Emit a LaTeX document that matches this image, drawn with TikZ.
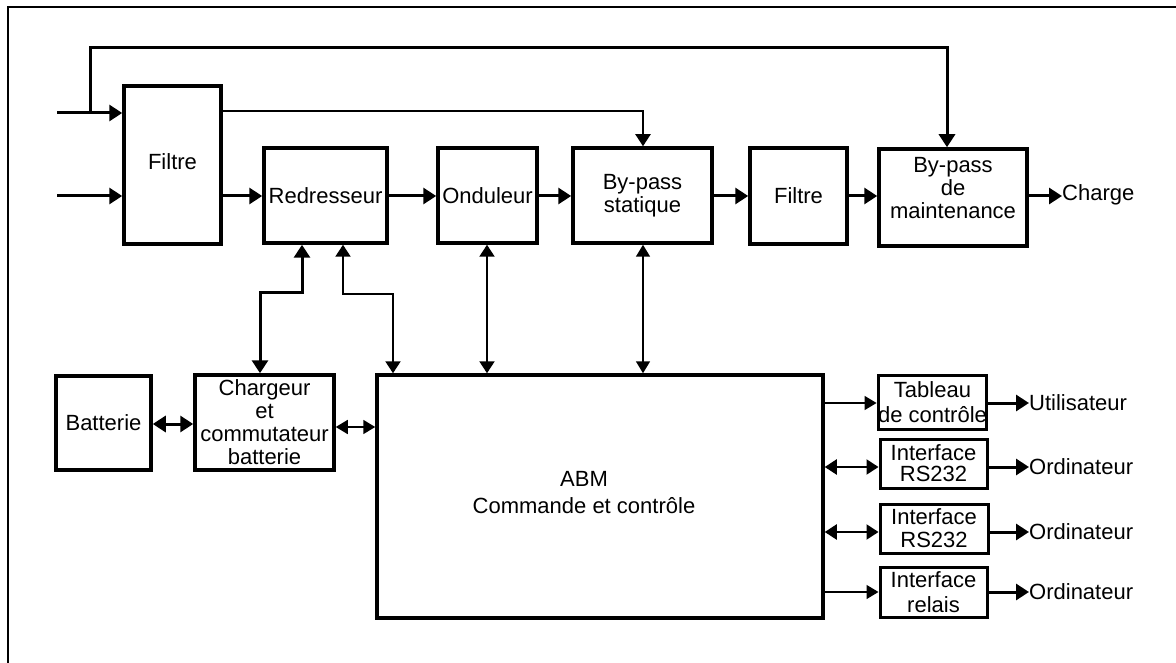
\documentclass[tikz,border=0pt]{standalone}
\usepackage{fontspec}
\setmainfont{Liberation Sans}
\usetikzlibrary{arrows.meta,calc}
\begin{document}
\begin{tikzpicture}[x=1pt,y=-1pt,
  box/.style={draw,line width=3.5pt,inner sep=0pt,align=center,font=\fontsize{22}{23}\selectfont},
  ibox/.style={box,line width=3pt},
  lbl/.style={inner sep=0pt,align=center,font=\fontsize{22}{23}\selectfont},
  olbl/.style={inner sep=0pt,anchor=west,font=\fontsize{22}{23}\selectfont},
  bigarrow/.style={line width=3pt,-{Triangle[length=13pt,width=16pt]}},
  bigdouble/.style={line width=3pt,{Triangle[length=13pt,width=16pt]}-{Triangle[length=13pt,width=16pt]}},
  smallarrow/.style={line width=1.5pt,-{Triangle[length=12pt,width=14pt]}},
  smalldouble/.style={line width=1.6pt,{Triangle[length=12pt,width=14pt]}-{Triangle[length=12pt,width=14pt]}},
  midarrow/.style={line width=2pt,-{Triangle[length=12pt,width=15pt]}},
  middouble/.style={line width=2.2pt,{Triangle[length=12pt,width=15pt]}-{Triangle[length=12pt,width=15pt]}}
]
\useasboundingbox (0,0) rectangle (1176,663);
% frame
\draw[line width=2pt] (7.5,663) -- (7.5,7.5) -- (1176,7.5);

% top row
\node[box,minimum width=97pt,minimum height=158pt] (filt1) at (172.5,165) {};
\node[lbl] (filt1t) at (172.5,162) {Filtre};
\node[box,minimum width=123pt,minimum height=95pt] (red) at (325.5,195.5) {Redresseur};
\node[box,minimum width=99pt,minimum height=95pt] (ond) at (487.5,195.5) {Onduleur};
\node[box,minimum width=139pt,minimum height=95pt] (bps) at (642.5,195.5) {By-pass\\statique};
\node[box,minimum width=97pt,minimum height=96pt] (filt2) at (798.5,196) {Filtre};
\node[box,minimum width=148pt,minimum height=97pt] (bpm) at (953,197.5) {};
\node[lbl] (bpmt) at (953,188) {By-pass\\de\\maintenance};
\node[olbl] (charge) at (1062,195) {Charge};

% bottom row
\node[box,minimum width=95pt,minimum height=94pt] (bat) at (103.5,423) {Batterie};
\node[box,minimum width=139pt,minimum height=95pt] (chg) at (264.5,422.5) {};
\node[lbl] (chgt) at (264.5,422.5) {Chargeur\\et\\commutateur\\batterie};
\node[box,minimum width=446pt,minimum height=243pt] (abm) at (600,496.5) {};
\node[lbl,font=\fontsize{22}{27}\selectfont] (abmt) at (584,492.5) {ABM\\Commande et contrôle};

% interfaces
\node[ibox,font=\fontsize{22}{25}\selectfont,minimum width=105pt,minimum height=54pt] (tab) at (932.5,402) {Tableau\\de contrôle};
\node[ibox,font=\fontsize{22}{21}\selectfont,minimum width=107pt,minimum height=49pt] (rs1) at (933.5,463.5) {Interface\\RS232};
\node[ibox,font=\fontsize{22}{23}\selectfont,minimum width=108pt,minimum height=49pt] (rs2) at (934,528.5) {Interface\\RS232};
\node[ibox,font=\fontsize{22}{25}\selectfont,minimum width=107pt,minimum height=50pt] (rel) at (933.5,592) {Interface\\relais};
\node[olbl] (util) at (1029,403) {Utilisateur};
\node[olbl] (ord1) at (1029,467) {Ordinateur};
\node[olbl] (ord2) at (1029,532) {Ordinateur};
\node[olbl] (ord3) at (1029,592) {Ordinateur};

% inputs
\coordinate (in1) at (57,113);
\coordinate (in2) at (57,196);
\coordinate (j1) at (90,113);
\coordinate (t1) at (90,48);
\coordinate (t2) at (947,48);
\coordinate (s1) at (221,111);
\coordinate (s2) at (643,111);
\draw[bigarrow] (in1) -- (filt1.west |- in1);
\draw[bigarrow] (in2) -- (filt1.west |- in2);
\draw[bigarrow] (j1) -- (t1) -- (t2) -- (t2 |- bpm.north);
\draw[midarrow] (filt1.east |- s1) -- (s2) -- (s2 |- bps.north);

% main chain
\coordinate (m) at (0,196);
\draw[bigarrow] (filt1.east |- m) -- (red.west |- m);
\draw[bigarrow] (red.east |- m) -- (ond.west |- m);
\draw[bigarrow] (ond.east |- m) -- (bps.west |- m);
\draw[bigarrow] (bps.east |- m) -- (filt2.west |- m);
\draw[bigarrow] (filt2.east |- m) -- (bpm.west |- m);
\draw[bigarrow] (bpm.east |- m) -- (charge.west |- m);

% redresseur links
\coordinate (r1) at (302,293);
\coordinate (r2) at (260,293);
\coordinate (r3) at (343,294);
\coordinate (r4) at (393,294);
\draw[bigdouble] (red.south -| r1) -- (r1) -- (r2) -- (r2 |- chg.north);
\draw[middouble] (red.south -| r3) -- (r3) -- (r4) -- (r4 |- abm.north);
\coordinate (o1) at (487,0);
\coordinate (b1) at (643,0);
\draw[middouble] (ond.south -| o1) -- (abm.north -| o1);
\draw[smalldouble] (bps.south -| b1) -- (abm.north -| b1);

% battery links
\coordinate (bl) at (0,424);
\coordinate (cl) at (0,427);
\draw[bigdouble] (bat.east |- bl) -- (chg.west |- bl);
\draw[smalldouble] (chg.east |- cl) -- (abm.west |- cl);

% right links
\coordinate (y1) at (0,403);
\coordinate (y2) at (0,467);
\coordinate (y3) at (0,532);
\coordinate (y4) at (0,592);
\draw[smallarrow] (abm.east |- y1) -- (tab.west |- y1);
\draw[middouble] (abm.east |- y2) -- (rs1.west |- y2);
\draw[middouble] (abm.east |- y3) -- (rs2.west |- y3);
\draw[smallarrow] (abm.east |- y4) -- (rel.west |- y4);
\draw[bigarrow] (tab.east |- y1) -- (util.west |- y1);
\draw[bigarrow] (rs1.east |- y2) -- (ord1.west |- y2);
\draw[bigarrow] (rs2.east |- y3) -- (ord2.west |- y3);
\draw[bigarrow] (rel.east |- y4) -- (ord3.west |- y4);
\end{tikzpicture}
\end{document}
